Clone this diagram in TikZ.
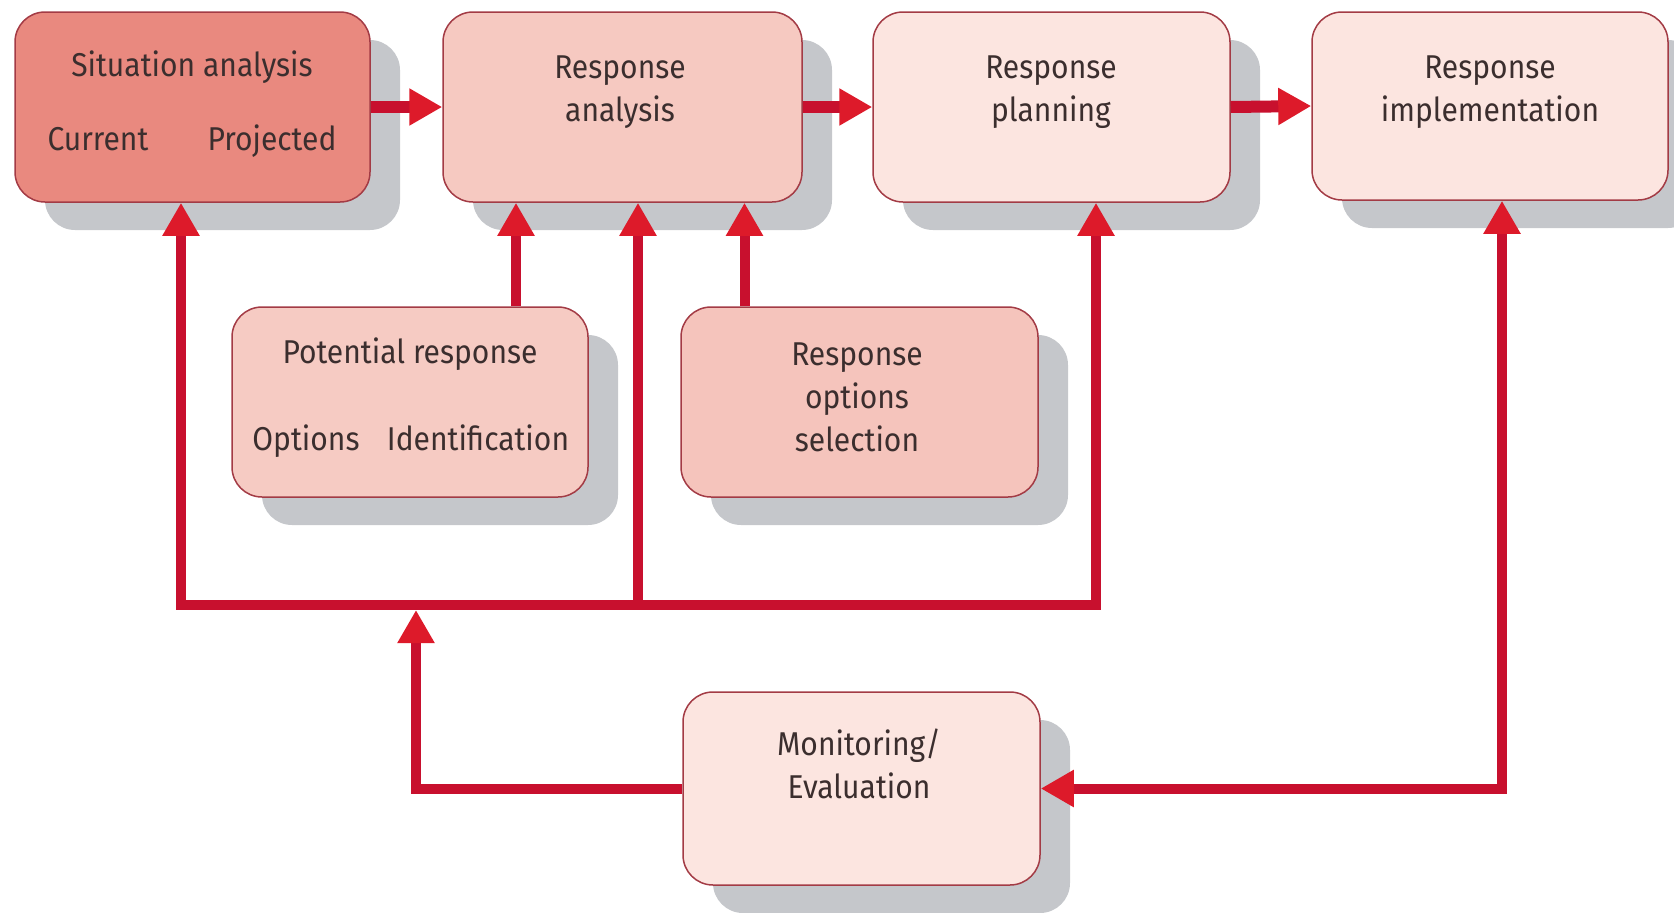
\documentclass[tikz,border=0pt]{standalone}
\usepackage{fontspec}
\setmainfont[FakeStretch=0.91]{Fira Sans}
\usetikzlibrary{arrows.meta,shadows,calc}
\definecolor{sitfill}{HTML}{E9897F}
\definecolor{rafill}{HTML}{F6C9C1}
\definecolor{prfill}{HTML}{F6CBC3}
\definecolor{rsofill}{HTML}{F5C4BC}
\definecolor{lightfill}{HTML}{FCE5E0}
\definecolor{boxborder}{HTML}{A33B45}
\definecolor{linered}{HTML}{C8102E}
\definecolor{tipred}{HTML}{DD1A2A}
\definecolor{shadowgray}{HTML}{C5C7CB}
\definecolor{txt}{HTML}{3B2E2E}
\tikzset{
  box/.style={rectangle, rounded corners=30pt, draw=boxborder, line width=1.5pt,
    inner sep=0pt,
    copy shadow={shadow xshift=30pt, shadow yshift=-28pt, fill=shadowgray, draw=none}},
  lbltxt/.style={text=txt, font=\fontsize{33}{43}\selectfont, align=center, inner sep=0pt},
  lbl/.style={lbltxt, text height=24pt, text depth=8pt},
  mlbl/.style={lbltxt, anchor=north},
  Tri/.tip={Triangle[width=35pt,length=33pt,color=tipred]},
  link/.style={draw=linered, line width=10pt},
  hlink/.style={draw=linered, line width=12pt},
}
\begin{document}
\begin{tikzpicture}[x=1pt,y=-1pt]
\useasboundingbox (0,0) rectangle (1674,913);
% boxes
\node[box, fill=sitfill, minimum width=355pt, minimum height=190pt] (sit) at (192.5,107) {};
\node[box, fill=rafill, minimum width=359pt, minimum height=190pt] (ra) at (622.5,107) {};
\node[box, fill=lightfill, minimum width=357pt, minimum height=190pt] (rp) at (1051.5,107) {};
\node[box, fill=lightfill, minimum width=356pt, minimum height=188pt] (ri) at (1490,106) {};
\node[box, fill=prfill, minimum width=356pt, minimum height=190pt] (pr) at (410,402) {};
\node[box, fill=rsofill, minimum width=357pt, minimum height=190pt] (rso) at (859.5,402) {};
\node[box, fill=lightfill, minimum width=357pt, minimum height=193pt] (mon) at (861.5,788.5) {};
% texts
\node[lbl] (sitT) at (192,68) {Situation analysis};
\node[lbl] (sitC) at (98,142) {Current};
\node[lbl] (sitP) at (272,142) {Projected};
\node[mlbl] (raT) at (620,56) {Response\\analysis};
\node[mlbl] (rpT) at (1051,56) {Response\\planning};
\node[mlbl] (riT) at (1490,56) {Response\\implementation};
\node[lbl] (prT) at (410,355) {Potential response};
\node[lbl] (prO) at (306,442) {Options};
\node[lbl] (prI) at (478,442) {Identification};
\node[mlbl] (rsoT) at (857,343) {Response\\options\\selection};
\node[mlbl] (monT) at (859,729) {Monitoring/\\Evaluation};
% coordinates
\coordinate (b1) at (181,605);
\coordinate (b2) at (638,605);
\coordinate (b3) at (1096,605);
\coordinate (b4) at (416,610);
\coordinate (c1) at (1502,795);
% top arrows
\draw[hlink,-Tri] (sit.east) -- (ra.west);
\draw[hlink,-Tri] (ra.east) -- (rp.west);
\draw[hlink,-Tri] (rp.east) -- (ri.west);
% from potential response and options selection
\draw[link,-Tri] ([xshift=106pt]pr.north) -- ([xshift=106pt]pr.north |- ra.south);
\draw[link,-Tri] ([xshift=-115pt]rso.north) -- ([xshift=-115pt]rso.north |- ra.south);
% feedback bus
\draw[link,Tri-Tri] (b1 |- sit.south) -- (b1) -- (b3) -- (b3 |- rp.south);
\draw[link,-Tri] (b2) -- (b2 |- ra.south);
% monitoring
\draw[link,-Tri] (mon.west) -| (b4);
\draw[link,Tri-Tri] (mon.east) -| (c1 |- ri.south);
\end{tikzpicture}
\end{document}
